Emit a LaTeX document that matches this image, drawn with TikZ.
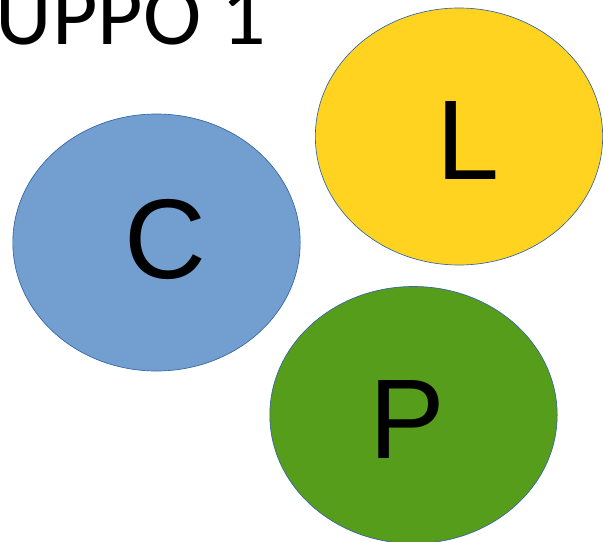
\documentclass[tikz,border=0pt]{standalone}
\usepackage{fontspec}
\setmainfont{Liberation Sans}
\newfontfamily\titlefont{Carlito}
\usetikzlibrary{shapes.geometric}
\definecolor{cblue}{HTML}{729FCF}
\definecolor{lyellow}{HTML}{FFD320}
\definecolor{pgreen}{HTML}{579D1C}
\definecolor{rim}{HTML}{3465A4}
\tikzset{
  bubble/.style={ellipse, draw=rim, line width=0.5pt, inner sep=0pt,
    minimum width=215.5pt, minimum height=192.75pt},
  letter/.style={inner sep=0pt, font=\fontsize{85}{100}\selectfont}
}
\begin{document}
\begin{tikzpicture}[x=0.75pt, y=-0.75pt]
\path [use as bounding box, clip] (0,0) rectangle (603,542);
\node [inner sep=0pt, anchor=base east, font=\titlefont\fontsize{66}{70}\selectfont] (title) at (266,45) {GRUPPO 1};
\node [bubble, fill=cblue] (c) at (156.5,242.5) {};
\node [bubble, fill=lyellow] (l) at (459,136.5) {};
\node [bubble, fill=pgreen] (p) at (413.5,415) {};
\node [letter] (ctext) at (165,239) {C};
\node [letter] (ltext) at (468,140.5) {L};
\node [letter] (ptext) at (407,419.5) {P};
\end{tikzpicture}
\end{document}
